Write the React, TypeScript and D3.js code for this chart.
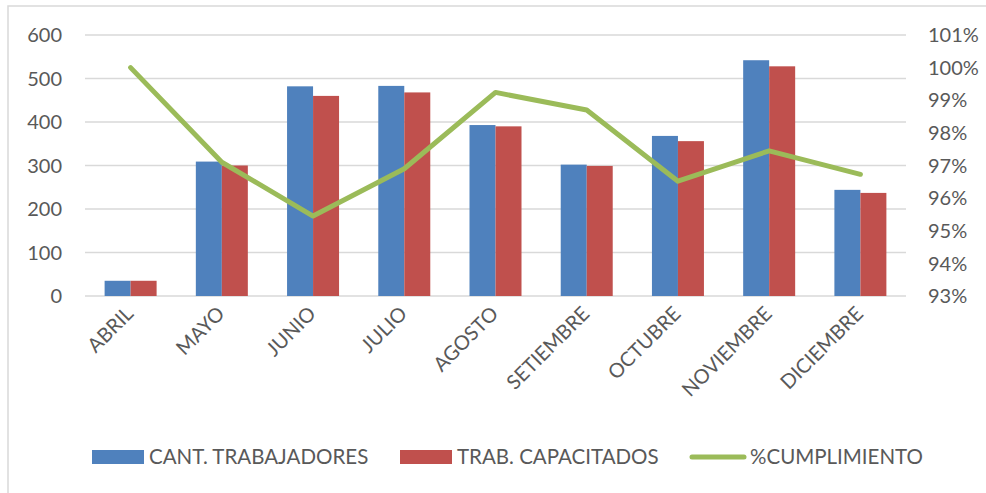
import React from "react";
import * as d3 from "d3";

const months = ["ABRIL", "MAYO", "JUNIO", "JULIO", "AGOSTO", "SETIEMBRE", "OCTUBRE", "NOVIEMBRE", "DICIEMBRE"];
const trabajadores = [35, 309, 482, 483, 393, 302, 368, 542, 244];
const capacitados = [35, 300, 460, 468, 390, 299, 356, 528, 237];
const cumplimiento = [1.0, 0.971, 0.9545, 0.969, 0.9924, 0.987, 0.9652, 0.9745, 0.9673];
const leftTicks = [0, 100, 200, 300, 400, 500, 600];
const rightTicks = [0.93, 0.94, 0.95, 0.96, 0.97, 0.98, 0.99, 1.0, 1.01];
const seriesNames = ["CANT. TRABAJADORES", "TRAB. CAPACITADOS", "%CUMPLIMIENTO"];

const W = 986;
const H = 493;
const plot = { left: 85, right: 906, top: 35, bottom: 296 };
const BLUE = "#4F81BD";
const RED = "#C0504D";
const GREEN = "#9BBB59";
const TEXT = "#595959";
const FONT = "Lato, 'Open Sans', sans-serif";

export default function App() {
  const x = d3.scaleBand<string>().domain(months).range([plot.left, plot.right]).paddingInner(0.43).paddingOuter(0.215);
  const inner = d3.scaleBand<string>().domain(["a", "b"]).range([0, x.bandwidth()]);
  const yL = d3.scaleLinear().domain([0, 600]).range([plot.bottom, plot.top]);
  const yR = d3.scaleLinear().domain([0.93, 1.01]).range([plot.bottom, plot.top]);
  const cx = (m: string) => (x(m) as number) + x.bandwidth() / 2;
  const line = d3
    .line<number>()
    .x((_, i) => cx(months[i]))
    .y((d) => yR(d));
  const pct = d3.format(".0%");

  return (
    <svg width={W} height={H} style={{ position: "absolute", left: 0, top: 0, background: "#fff" }} fontFamily={FONT}>
      <rect x={8} y={6} width={W + 10} height={H + 10} fill="#fff" stroke="#d9d9d9" strokeWidth={1.5} />
      {leftTicks.map((t) => (
        <line key={t} x1={plot.left} x2={plot.right} y1={yL(t)} y2={yL(t)} stroke="#d9d9d9" strokeWidth={1.5} />
      ))}
      {leftTicks.map((t) => (
        <text key={"l" + t} x={62} y={yL(t)} dy="0.36em" textAnchor="end" fontSize={20} fill={TEXT}>
          {t}
        </text>
      ))}
      {rightTicks.map((t) => (
        <text key={"r" + t} x={928} y={yR(t)} dy="0.36em" textAnchor="start" fontSize={20} fill={TEXT}>
          {pct(t)}
        </text>
      ))}
      {months.map((m, i) => (
        <g key={m}>
          <rect
            x={(x(m) as number) + (inner("a") as number)}
            y={yL(trabajadores[i])}
            width={inner.bandwidth()}
            height={plot.bottom - yL(trabajadores[i])}
            fill={BLUE}
          />
          <rect
            x={(x(m) as number) + (inner("b") as number)}
            y={yL(capacitados[i])}
            width={inner.bandwidth()}
            height={plot.bottom - yL(capacitados[i])}
            fill={RED}
          />
        </g>
      ))}
      <path d={line(cumplimiento) || ""} fill="none" stroke={GREEN} strokeWidth={5} strokeLinejoin="round" strokeLinecap="round" />
      {months.map((m) => (
        <text
          key={"x" + m}
          transform={`translate(${cx(m) + 4},${315}) rotate(-45)`}
          textAnchor="end"
          fontSize={20}
          fill={TEXT}
        >
          {m}
        </text>
      ))}
      <g fontSize={20.5} fill={TEXT}>
        <rect x={92} y={450} width={52} height={14} fill={BLUE} />
        <text x={149} y={457} dy="0.36em" fill={TEXT}>{seriesNames[0]}</text>
        <rect x={400} y={450} width={52} height={14} fill={RED} />
        <text x={457} y={457} dy="0.36em" fill={TEXT}>{seriesNames[1]}</text>
        <line x1={692} x2={744} y1={457} y2={457} stroke={GREEN} strokeWidth={5} strokeLinecap="round" />
        <text x={750} y={457} dy="0.36em" fill={TEXT}>{seriesNames[2]}</text>
      </g>
    </svg>
  );
}
